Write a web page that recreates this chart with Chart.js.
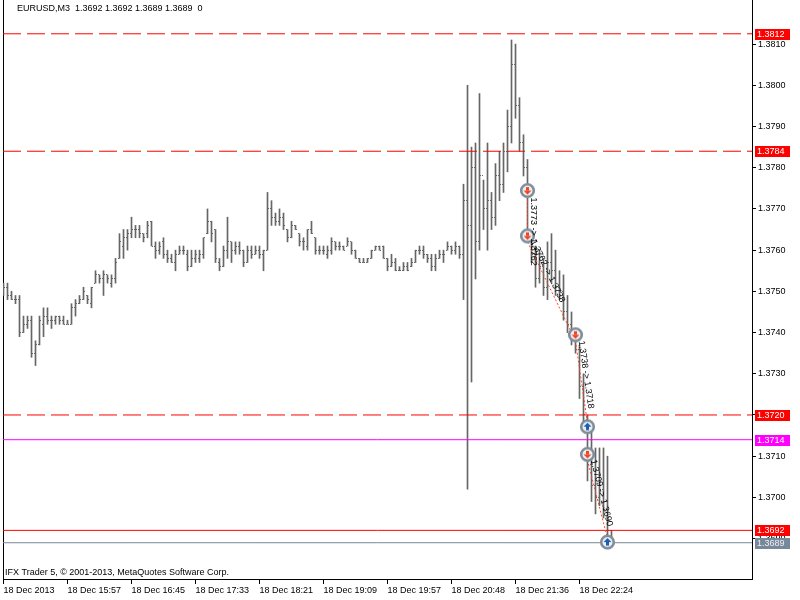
<!DOCTYPE html>
<html>
<head>
<meta charset="utf-8">
<script src="https://cdn.jsdelivr.net/npm/chart.js@4.4.0/dist/chart.umd.min.js"></script>
<style>
body{margin:0;background:#fff;}
</style>
</head>
<body>
<canvas id="chart" width="800" height="600"></canvas>
<script>
var symbol="EURUSD,M3";
var copyright="IFX Trader 5, \u00a9 2001-2013, MetaQuotes Software Corp.";

var opens=[
1.3750,1.3751,1.3749,1.3748,1.3748,1.3740,1.3742,1.3743,1.3735,1.3737,
1.3742,1.3744,1.3743,1.3743,1.3744,1.3743,1.3742,1.3742,1.3746,1.3747,
1.3748,1.3749,1.3747,1.3752,1.3754,1.3753,1.3754,1.3752,1.3753,1.3758,
1.3761,1.3763,1.3764,1.3765,1.3765,1.3764,1.3764,1.3767,1.3761,1.3760,
1.3762,1.3759,1.3758,1.3757,1.3759,1.3760,1.3759,1.3756,1.3758,1.3758,
1.3759,1.3764,1.3767,1.3765,1.3757,1.3756,1.3760,1.3762,1.3760,1.3761,
1.3760,1.3757,1.3760,1.3759,1.3760,1.3759,1.3760,1.3770,1.3768,1.3767,
1.3768,1.3765,1.3763,1.3766,1.3764,1.3762,1.3761,1.3765,1.3763,1.3760,
1.3760,1.3759,1.3760,1.3762,1.3761,1.3761,1.3761,1.3762,1.3760,1.3758,
1.3757,1.3757,1.3758,1.3760,1.3761,1.3761,1.3758,1.3756,1.3757,1.3755,
1.3755,1.3756,1.3756,1.3757,1.3760,1.3760,1.3759,1.3758,1.3756,1.3758,
1.3759,1.3760,1.3761,1.3760,1.3761,1.3759,1.3772,1.3766,1.3780,1.3762,
1.3778,1.3770,1.3772,1.3768,1.3778,1.3776,1.3784,1.3790,1.3805,1.3795,
1.3786,1.3780,1.3764,1.3759,1.3753,1.3756,1.3751,1.3757,1.3755,1.3751,
1.3750,1.3745,1.3742,1.3739,1.3736,1.3727,1.3719,1.3708,1.3703,1.3700,
1.3702,1.3697,1.3692];
var highs=[
1.3752,1.3752,1.3750,1.3749,1.3749,1.3744,1.3744,1.3744,1.3738,1.3744,
1.3746,1.3746,1.3744,1.3744,1.3744,1.3744,1.3743,1.3747,1.3748,1.3749,
1.3751,1.3749,1.3751,1.3755,1.3754,1.3755,1.3754,1.3754,1.3758,1.3764,
1.3765,1.3765,1.3768,1.3766,1.3766,1.3764,1.3767,1.3767,1.3762,1.3762,
1.3763,1.3760,1.3759,1.3760,1.3761,1.3761,1.3760,1.3760,1.3760,1.3760,
1.3763,1.3770,1.3767,1.3765,1.3758,1.3761,1.3768,1.3762,1.3762,1.3762,
1.3760,1.3761,1.3761,1.3761,1.3761,1.3760,1.3774,1.3772,1.3769,1.3770,
1.3769,1.3765,1.3767,1.3766,1.3764,1.3763,1.3765,1.3767,1.3763,1.3761,
1.3761,1.3761,1.3763,1.3762,1.3762,1.3761,1.3763,1.3762,1.3760,1.3758,
1.3758,1.3758,1.3760,1.3761,1.3761,1.3761,1.3758,1.3759,1.3758,1.3756,
1.3757,1.3757,1.3758,1.3760,1.3761,1.3761,1.3759,1.3759,1.3759,1.3760,
1.3760,1.3762,1.3761,1.3762,1.3761,1.3776,1.3800,1.3785,1.3786,1.3798,
1.3777,1.3786,1.3774,1.3781,1.3784,1.3786,1.3794,1.3811,1.3810,1.3797,
1.3788,1.3782,1.3764,1.3761,1.3760,1.3758,1.3762,1.3764,1.3760,1.3755,
1.3754,1.3749,1.3745,1.3740,1.3737,1.3730,1.3720,1.3717,1.3712,1.3712,
1.3712,1.3710,1.3692];
var lows=[
1.3749,1.3748,1.3748,1.3747,1.3739,1.3740,1.3741,1.3734,1.3732,1.3737,
1.3739,1.3742,1.3741,1.3742,1.3742,1.3742,1.3742,1.3742,1.3744,1.3747,
1.3748,1.3747,1.3746,1.3752,1.3752,1.3749,1.3752,1.3751,1.3752,1.3758,
1.3758,1.3760,1.3763,1.3763,1.3763,1.3762,1.3763,1.3761,1.3758,1.3759,
1.3758,1.3757,1.3757,1.3755,1.3759,1.3759,1.3755,1.3756,1.3757,1.3757,
1.3758,1.3764,1.3762,1.3757,1.3755,1.3756,1.3758,1.3757,1.3759,1.3759,
1.3756,1.3757,1.3758,1.3759,1.3758,1.3755,1.3760,1.3766,1.3766,1.3766,
1.3765,1.3762,1.3763,1.3765,1.3761,1.3760,1.3760,1.3764,1.3759,1.3759,
1.3759,1.3758,1.3759,1.3760,1.3760,1.3760,1.3761,1.3759,1.3758,1.3757,
1.3757,1.3757,1.3758,1.3760,1.3760,1.3758,1.3755,1.3756,1.3755,1.3755,
1.3755,1.3755,1.3756,1.3757,1.3759,1.3758,1.3757,1.3755,1.3755,1.3758,
1.3757,1.3760,1.3759,1.3759,1.3758,1.3748,1.3702,1.3728,1.3753,1.3760,
1.3765,1.3760,1.3765,1.3766,1.3772,1.3774,1.3779,1.3786,1.3792,1.3784,
1.3778,1.3762,1.3757,1.3751,1.3752,1.3749,1.3748,1.3752,1.3749,1.3748,
1.3743,1.3740,1.3737,1.3735,1.3724,1.3718,1.3704,1.3699,1.3696,1.3698,
1.3695,1.3690,1.3689];
var closes=[
1.3751,1.3749,1.3748,1.3748,1.3740,1.3742,1.3743,1.3735,1.3737,1.3743,
1.3744,1.3743,1.3743,1.3744,1.3743,1.3742,1.3742,1.3746,1.3747,1.3748,
1.3750,1.3748,1.3751,1.3754,1.3753,1.3754,1.3753,1.3753,1.3757,1.3762,
1.3763,1.3764,1.3765,1.3765,1.3764,1.3763,1.3766,1.3761,1.3760,1.3761,
1.3759,1.3758,1.3757,1.3759,1.3760,1.3760,1.3756,1.3758,1.3759,1.3759,
1.3763,1.3767,1.3764,1.3758,1.3756,1.3760,1.3762,1.3760,1.3761,1.3760,
1.3757,1.3760,1.3759,1.3760,1.3759,1.3760,1.3770,1.3768,1.3767,1.3768,
1.3766,1.3763,1.3766,1.3765,1.3762,1.3762,1.3765,1.3764,1.3760,1.3760,
1.3760,1.3760,1.3762,1.3761,1.3761,1.3760,1.3762,1.3760,1.3758,1.3757,
1.3757,1.3758,1.3760,1.3761,1.3760,1.3758,1.3756,1.3757,1.3755,1.3755,
1.3756,1.3755,1.3757,1.3760,1.3760,1.3759,1.3758,1.3756,1.3758,1.3759,
1.3759,1.3761,1.3760,1.3761,1.3759,1.3772,1.3766,1.3780,1.3762,1.3778,
1.3770,1.3772,1.3768,1.3778,1.3776,1.3784,1.3790,1.3805,1.3795,1.3786,
1.3780,1.3764,1.3759,1.3753,1.3756,1.3751,1.3757,1.3755,1.3751,1.3750,
1.3745,1.3742,1.3739,1.3736,1.3727,1.3720,1.3708,1.3703,1.3700,1.3702,
1.3697,1.3692,1.3689];

var tickBars=[0,16,32,48,64,80,96,112,128,144];
var tickLabels=["18 Dec 2013","18 Dec 15:57","18 Dec 16:45","18 Dec 17:33","18 Dec 18:21","18 Dec 19:09","18 Dec 19:57","18 Dec 20:48","18 Dec 21:36","18 Dec 22:24"];
var priceTicks=[1.3690,1.3700,1.3710,1.3720,1.3730,1.3740,1.3750,1.3760,1.3770,1.3780,1.3790,1.3800,1.3810];

var levelPrices=[1.38125,1.3784,1.3720,1.3714,1.3692,1.3689];
var levelColors=["#ff0000","#ff0000","#ff0000","#ff00ff","#ff0000","#778899"];
var levelDashed=[true,true,true,false,false,false];

var dealBars=[131,131,143,146,146,151];
var dealPrices=[1.3773,1.3762,1.3738,1.3718,1.3709,1.3690];
var dealTypes=["sell","sell","sell","buy","sell","buy"];
var dealLinks=[[0,1],[1,2],[2,3],[4,5]];

var xMin=-0.125, xMax=187.125;
var FONT='"Liberation Sans", Arial, sans-serif';
Chart.defaults.font.family=FONT;
Chart.defaults.font.size=9;
Chart.defaults.color="#000";

function fmt(p){return (Math.floor(p*10000+1e-6)/10000).toFixed(4);}

function tickIcon(left){
  var c=document.createElement("canvas");c.width=3;c.height=1;
  var g=c.getContext("2d");g.fillStyle="#666666";g.fillRect(left?0:2,0,1,1);
  return c;
}
function dealIcon(buy){
  var c=document.createElement("canvas");c.width=17;c.height=29;
  var g=c.getContext("2d");
  var cy=buy?18:8.5;
  g.beginPath();g.arc(8.5,cy,6.3,0,Math.PI*2);
  g.fillStyle="#eef0f3";g.fill();
  g.lineWidth=2.6;g.strokeStyle="#7f8d9b";g.stroke();
  g.fillStyle=buy?"#1b5fb5":"#ee4420";
  g.beginPath();
  if(buy){g.moveTo(8.5,cy-4);g.lineTo(12.5,cy);g.lineTo(4.5,cy);g.fillRect(7,cy,3,3.5);}
  else{g.moveTo(8.5,cy+4);g.lineTo(12.5,cy);g.lineTo(4.5,cy);g.fillRect(7,cy-3.5,3,3.5);}
  g.closePath();g.fill();
  return c;
}

var barData=[],openData=[],closeData=[];
for(var i=0;i<opens.length;i++){
  barData.push({x:i,y:[lows[i],highs[i]]});
  openData.push({x:i,y:opens[i]});
  closeData.push({x:i,y:closes[i]});
}

var datasets=[];
datasets.push({type:"scatter",order:1,data:dealBars.map(function(b,i){return dealTypes[i]=="sell"?{x:b,y:dealPrices[i]}:null;}).filter(Boolean),pointStyle:dealIcon(false)});
datasets.push({type:"scatter",order:1,data:dealBars.map(function(b,i){return dealTypes[i]=="buy"?{x:b,y:dealPrices[i]}:null;}).filter(Boolean),pointStyle:dealIcon(true)});
dealLinks.forEach(function(l){
  datasets.push({type:"line",order:2,data:[{x:dealBars[l[0]],y:dealPrices[l[0]]},{x:dealBars[l[1]],y:dealPrices[l[1]]}],
    borderColor:"#ff4422",borderWidth:1,borderDash:[2,2],pointRadius:0});
});
levelPrices.forEach(function(p,i){
  datasets.push({type:"line",order:3,data:[{x:xMin,y:p},{x:xMax,y:p}],borderColor:levelColors[i],borderWidth:1,
    borderDash:levelDashed[i]?[18,6]:[],pointRadius:0});
});
datasets.push({type:"scatter",order:4,data:openData,pointStyle:tickIcon(true)});
datasets.push({type:"scatter",order:4,data:closeData,pointStyle:tickIcon(false)});
datasets.push({type:"bar",order:5,data:barData,backgroundColor:"#666666",borderWidth:0,barThickness:1,grouped:false});

var overlay={
  id:"overlay",
  afterDatasetsDraw:function(chart){
    var ctx=chart.ctx,xs=chart.scales.x,ys=chart.scales.y;
    ctx.save();
    ctx.font="9px "+FONT;ctx.fillStyle="#000";ctx.textBaseline="bottom";ctx.textAlign="left";
    dealLinks.forEach(function(l){
      var x1=xs.getPixelForValue(dealBars[l[0]]),y1=ys.getPixelForValue(dealPrices[l[0]]);
      var x2=xs.getPixelForValue(dealBars[l[1]]),y2=ys.getPixelForValue(dealPrices[l[1]]);
      ctx.save();ctx.translate(x1,y1);ctx.rotate(Math.atan2(y2-y1,x2-x1));
      ctx.fillText(fmt(dealPrices[l[0]])+" -> "+fmt(dealPrices[l[1]]),1,-1);
      ctx.restore();
    });
    ctx.restore();
  },
  afterDraw:function(chart){
    var ctx=chart.ctx,ys=chart.scales.y,a=chart.chartArea;
    ctx.save();
    ctx.font="9px "+FONT;ctx.textAlign="left";ctx.textBaseline="middle";
    levelPrices.forEach(function(p,i){
      var y=Math.round(ys.getPixelForValue(p));
      ctx.fillStyle=levelColors[i];
      ctx.fillRect(a.right+3,y-5,35,11);
      ctx.fillStyle=i==5?"#eef0f2":"#fff";
      ctx.fillText(fmt(p),a.right+5,y+0.5);
    });
    var n=opens.length-1;
    ctx.fillStyle="#000";ctx.textBaseline="alphabetic";
    ctx.fillText(symbol+"  "+[opens[n],highs[n],lows[n],closes[n]].map(fmt).join(" ")+"  0",17,11);
    ctx.fillText(copyright,5,575);
    ctx.restore();
  }
};

var myChart=new Chart(document.getElementById("chart"),{
  type:"scatter",
  data:{datasets:datasets},
  plugins:[overlay],
  options:{
    responsive:false,
    animation:false,
    devicePixelRatio:1,
    layout:{padding:0,autoPadding:false},
    plugins:{legend:{display:false},tooltip:{enabled:false}},
    events:[],
    scales:{
      x:{
        type:"linear",min:xMin,max:xMax,offset:false,
        afterBuildTicks:function(s){s.ticks=tickBars.map(function(v){return {value:v};});},
        afterFit:function(s){s.height=21;s.paddingLeft=0;s.paddingRight=0;},
        ticks:{callback:function(v,i){return tickLabels[i];},align:"start",padding:1,maxRotation:0,autoSkip:false},
        grid:{drawOnChartArea:false,tickLength:5,color:"#000",offset:false},
        border:{color:"#000"}
      },
      y:{
        type:"linear",position:"right",min:1.36802,max:1.38207,
        afterBuildTicks:function(s){s.ticks=priceTicks.map(function(v){return {value:v};});},
        afterFit:function(s){s.width=48;s.paddingTop=0;s.paddingBottom=0;},
        ticks:{callback:function(v){return v.toFixed(4);},padding:2,autoSkip:false},
        grid:{drawOnChartArea:false,tickLength:4,color:"#000"},
        border:{color:"#000"}
      },
      yl:{
        type:"linear",position:"left",min:0,max:1,
        afterFit:function(s){s.width=3;s.paddingTop=0;s.paddingBottom=0;},
        ticks:{display:false},
        grid:{display:false},
        border:{color:"#000"}
      }
    }
  }
});
</script>
</body>
</html>
